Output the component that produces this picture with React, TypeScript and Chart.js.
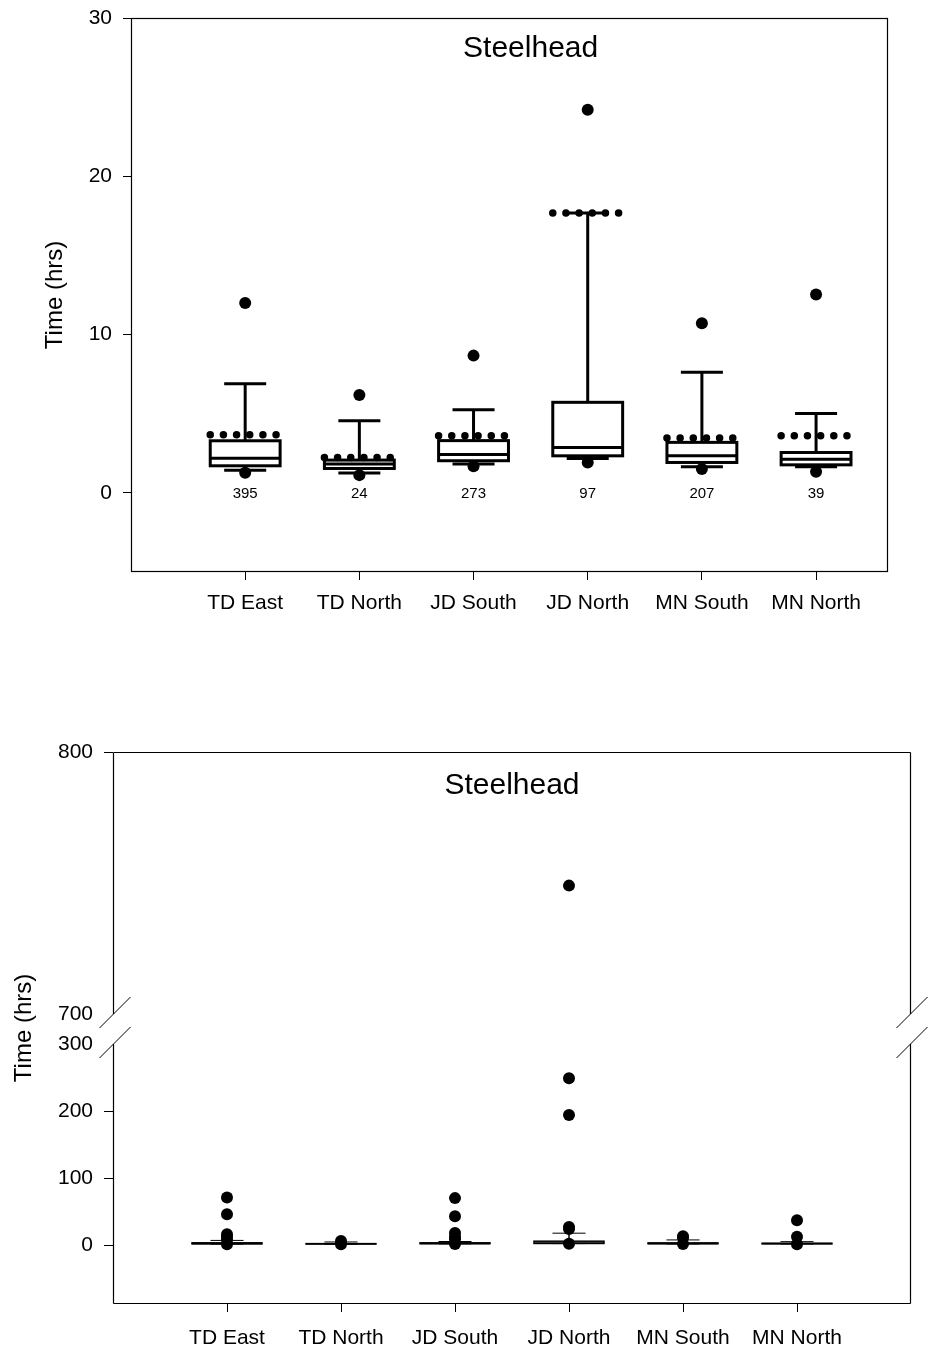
import React, { useEffect, useRef } from "react";
import { Chart, registerables } from "chart.js";

Chart.register(...registerables);

const FONT = "'Liberation Sans', Arial, Helvetica, sans-serif";

// ---- data ----
const categories = ["TD East", "TD North", "JD South", "JD North", "MN South", "MN North"];
const counts = [395, 24, 273, 97, 207, 39];
const p5 = [1.27, 1.12, 1.68, 1.92, 1.5, 1.33];
const p10 = [1.43, 1.25, 1.83, 2.17, 1.65, 1.65];
const q1 = [1.71, 1.54, 2.03, 2.34, 1.92, 1.77];
const medians = [2.18, 1.82, 2.42, 2.87, 2.34, 2.13];
const q3 = [3.29, 2.07, 3.3, 5.72, 3.19, 2.55];
const p90 = [6.9, 4.56, 5.25, 17.68, 7.62, 5.02];
const p95 = [12.0, 6.18, 8.67, 24.2, 10.72, 12.53];
const means = [3.67, 2.24, 3.6, 17.68, 3.46, 3.6];

// all outliers (lower panel)
const outTDEast = [71, 46, 16, 12, 8, 1.2];
const outTDNorth = [6.2, 1.1];
const outJDSouth = [70, 43, 18, 12, 8.7, 1.5];
const outJDNorth = [249, 194, 27, 24, 1.9];
const outMNSouth = [13, 10.7, 1.5];
const outMNNorth = [37, 12.5, 1.3];
const farOutliers = [[], [], [], [749], [], []];

const topTicks = [0, 10, 20, 30];
const lowTicks = [0, 100, 200, 300];
const highTicks = [700, 800];

const title = "Steelhead";
const yTitle = "Time (hrs)";

const bottomOutliers = [outTDEast, outTDNorth, outJDSouth, outJDNorth, outMNSouth, outMNNorth];

// ---- plugins ----
function seg(ctx: CanvasRenderingContext2D, x1: number, y1: number, x2: number, y2: number) {
  ctx.beginPath();
  ctx.moveTo(x1, y1);
  ctx.lineTo(x2, y2);
  ctx.stroke();
}

const boxPlugin = {
  id: "boxes",
  beforeDatasetsDraw(chart: any, _a: any, opts: any) {
    if (!opts || !opts.yAxis) return;
    const xs = chart.scales.x;
    const ys = chart.scales[opts.yAxis];
    const ctx = chart.ctx as CanvasRenderingContext2D;
    ctx.save();
    ctx.strokeStyle = "#000";
    categories.forEach((_, i) => {
      const xv = i + 1;
      const xc = xs.getPixelForValue(xv);
      const xl = xs.getPixelForValue(xv - opts.boxHalf);
      const xr = xs.getPixelForValue(xv + opts.boxHalf);
      const cl = xs.getPixelForValue(xv - opts.capHalf);
      const cr = xs.getPixelForValue(xv + opts.capHalf);
      const y10 = ys.getPixelForValue(p10[i]);
      const y90 = ys.getPixelForValue(p90[i]);
      const yq1 = ys.getPixelForValue(q1[i]);
      const yq3 = ys.getPixelForValue(q3[i]);
      const ym = ys.getPixelForValue(medians[i]);
      ctx.lineCap = "butt";
      ctx.lineWidth = opts.lw;
      seg(ctx, xc, yq3, xc, y90);
      seg(ctx, xc, yq1, xc, y10);
      ctx.lineWidth = opts.capLw;
      seg(ctx, cl, y90, cr, y90);
      seg(ctx, cl, y10, cr, y10);
      ctx.lineWidth = opts.lw;
      ctx.fillStyle = "#fff";
      ctx.fillRect(xl, yq3, xr - xl, yq1 - yq3);
      ctx.strokeRect(xl, yq3, xr - xl, yq1 - yq3);
      seg(ctx, xl, ym, xr, ym);
      if (opts.showMean) {
        const yMean = ys.getPixelForValue(means[i]);
        const w = xr - xl;
        const sp = (w * 13) / 69;
        ctx.setLineDash([0, sp]);
        ctx.lineCap = "round";
        ctx.lineWidth = opts.meanDot;
        seg(ctx, xl, yMean, xl + sp * 5 + 1, yMean);
        ctx.setLineDash([]);
      }
    });
    ctx.restore();
  },
};

const annotPlugin = {
  id: "annot",
  afterDatasetsDraw(chart: any, _a: any, opts: any) {
    if (!opts) return;
    const ctx = chart.ctx as CanvasRenderingContext2D;
    const xs = chart.scales.x;
    const area = chart.chartArea;
    ctx.save();
    ctx.fillStyle = "#000";
    ctx.textAlign = "center";
    ctx.textBaseline = "middle";
    ctx.font = `${opts.titleSize}px ${FONT}`;
    ctx.fillText(title, xs.getPixelForValue(3.5), area.top + opts.titleOffset);
    if (opts.counts) {
      const ys = chart.scales[opts.yAxis];
      ctx.font = `15px ${FONT}`;
      counts.forEach((c, i) => {
        ctx.fillText(String(c), xs.getPixelForValue(i + 1), ys.getPixelForValue(0) + 1);
      });
    }
    ctx.restore();
  },
  afterDraw(chart: any, _a: any, opts: any) {
    if (!opts) return;
    const ctx = chart.ctx as CanvasRenderingContext2D;
    const area = chart.chartArea;
    ctx.save();
    ctx.translate(opts.yTitleX, (area.top + area.bottom) / 2);
    ctx.rotate(-Math.PI / 2);
    ctx.fillStyle = "#000";
    ctx.textAlign = "center";
    ctx.textBaseline = "middle";
    ctx.font = `${opts.yTitleSize}px ${FONT}`;
    ctx.fillText(yTitle, 0, 0);
    ctx.restore();

    // frame
    const L = Math.round(area.left) + 0.5;
    const R = Math.round(area.right) - 0.5;
    const T = Math.round(area.top) + 0.5;
    const B = Math.round(area.bottom) - 0.5;
    ctx.save();
    ctx.strokeStyle = "#000";
    ctx.lineWidth = 1.2;
    if (!opts.broken) {
      ctx.strokeRect(L, T, R - L, B - T);
    } else {
      const yb1 = chart.scales.yHigh.getPixelForValue(700);
      const yb2 = chart.scales.yLow.getPixelForValue(300);
      seg(ctx, L, T, R, T);
      seg(ctx, L, B, R, B);
      seg(ctx, L, T, L, yb1);
      seg(ctx, L, yb2, L, B);
      seg(ctx, R, T, R, yb1);
      seg(ctx, R, yb2, R, B);
      ctx.lineWidth = 1;
      [L, R].forEach((x) => {
        [yb1, yb2].forEach((y) => {
          seg(ctx, x - 14, y + 14, x + 17, y - 17);
        });
      });
    }
    ctx.restore();
  },
};

const tickFont = { family: FONT, size: 21 };

function xScale(max: number, height: number, padding: number) {
  return {
    type: "linear",
    min: 0,
    max,
    afterBuildTicks: (s: any) => {
      s.ticks = categories.map((_, i) => ({ value: i + 1 }));
    },
    afterFit: (s: any) => {
      s.height = height;
    },
    ticks: {
      callback: (v: any) => categories[Math.round(v) - 1] ?? "",
      font: tickFont,
      color: "#000",
      padding,
      maxRotation: 0,
      autoSkip: false,
    },
    grid: { drawOnChartArea: false, drawTicks: true, tickLength: 8, color: "#000", lineWidth: 1 },
    border: { display: false },
  };
}

function TopChart() {
  const ref = useRef<HTMLCanvasElement>(null);
  useEffect(() => {
    const pts: any[] = [];
    categories.forEach((_, i) => {
      pts.push({ x: i + 1, y: p95[i] });
      pts.push({ x: i + 1, y: p5[i] });
    });
    const chart = new Chart(ref.current!, {
      type: "scatter",
      data: {
        datasets: [
          {
            data: pts,
            pointRadius: 6,
            pointHoverRadius: 6,
            pointBackgroundColor: "#000",
            pointBorderWidth: 0,
            borderWidth: 0,
          },
        ],
      },
      options: {
        responsive: false,
        animation: false,
        events: [],
        layout: { padding: { left: 0, top: 18, right: 43, bottom: 0 } },
        scales: {
          x: xScale(6.63, 104, 11) as any,
          y: {
            type: "linear",
            min: -5,
            max: 30,
            afterBuildTicks: (s: any) => {
              s.ticks = topTicks.map((v) => ({ value: v }));
            },
            afterFit: (s: any) => {
              s.width = 131;
              s.paddingTop = 0;
              s.paddingBottom = 0;
            },
            ticks: { font: tickFont, color: "#000", padding: 11 },
            grid: { drawOnChartArea: false, drawTicks: true, tickLength: 8, color: "#000" },
            border: { display: false },
          },
        },
        plugins: {
          legend: { display: false },
          tooltip: { enabled: false },
          boxes: { yAxis: "y", boxHalf: 0.306, capHalf: 0.184, lw: 3, capLw: 3, showMean: true, meanDot: 7.5 },
          annot: { yAxis: "y", counts: true, titleSize: 30, titleOffset: 31, yTitleX: 55, yTitleSize: 24, broken: false },
        } as any,
      },
      plugins: [boxPlugin, annotPlugin],
    });
    return () => chart.destroy();
  }, []);
  return <canvas ref={ref} width={931} height={676} style={{ display: "block" }} />;
}

function BottomChart() {
  const ref = useRef<HTMLCanvasElement>(null);
  useEffect(() => {
    const low: any[] = [];
    const high: any[] = [];
    bottomOutliers.forEach((arr, i) => arr.forEach((v) => low.push({ x: i + 1, y: v })));
    farOutliers.forEach((arr, i) => arr.forEach((v) => high.push({ x: i + 1, y: v })));
    const ds = (data: any[], yAxisID: string) => ({
      data,
      yAxisID,
      pointRadius: 6,
      pointHoverRadius: 6,
      pointBackgroundColor: "#000",
      pointBorderWidth: 0,
      borderWidth: 0,
    });
    const gridFor = (hidden: number) => ({
      drawOnChartArea: false,
      drawTicks: true,
      tickLength: 9,
      color: (c: any) => (c.tick && c.tick.value === hidden ? "rgba(0,0,0,0)" : "#000"),
    });
    const chart = new Chart(ref.current!, {
      type: "scatter",
      data: { datasets: [ds(low, "yLow"), ds(high, "yHigh")] },
      options: {
        responsive: false,
        animation: false,
        events: [],
        layout: { padding: { left: 0, top: 76, right: 20, bottom: 0 } },
        scales: {
          x: xScale(7, 48, 14) as any,
          yLow: {
            type: "linear",
            position: "left",
            stack: "left",
            stackWeight: 260,
            min: -88,
            max: 300,
            afterBuildTicks: (s: any) => {
              s.ticks = lowTicks.map((v) => ({ value: v }));
            },
            afterFit: (s: any) => {
              s.width = 113;
            },
            ticks: { font: tickFont, color: "#000", padding: 11 },
            grid: gridFor(300) as any,
            border: { display: false },
          },
          yHigh: {
            type: "linear",
            position: "left",
            stack: "left",
            stackWeight: 292,
            min: 688.55,
            max: 800,
            afterBuildTicks: (s: any) => {
              s.ticks = highTicks.map((v) => ({ value: v }));
            },
            afterFit: (s: any) => {
              s.width = 113;
            },
            ticks: { font: tickFont, color: "#000", padding: 11 },
            grid: gridFor(700) as any,
            border: { display: false },
          },
        },
        plugins: {
          legend: { display: false },
          tooltip: { enabled: false },
          boxes: { yAxis: "yLow", boxHalf: 0.307, capHalf: 0.145, lw: 1.5, capLw: 1, showMean: false, meanDot: 1 },
          annot: { yAxis: "yLow", counts: false, titleSize: 30, titleOffset: 34, yTitleX: 24, yTitleSize: 24, broken: true },
        } as any,
      },
      plugins: [boxPlugin, annotPlugin],
    });
    return () => chart.destroy();
  }, []);
  return <canvas ref={ref} width={931} height={676} style={{ display: "block" }} />;
}

export default function App() {
  useEffect(() => {
    document.body.style.margin = "0";
    document.body.style.background = "#fff";
  }, []);
  return (
    <div style={{ width: 931, height: 1352, background: "#fff" }}>
      <TopChart />
      <BottomChart />
    </div>
  );
}
